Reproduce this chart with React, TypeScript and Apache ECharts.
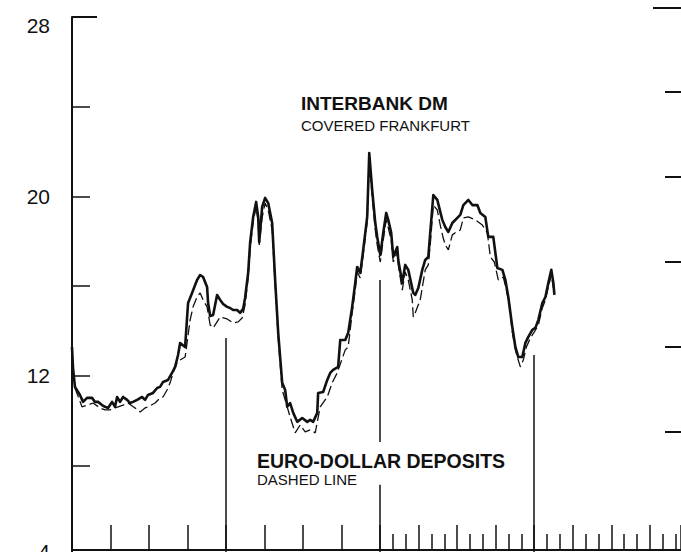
import React, { useEffect, useRef } from "react";
import * as echarts from "echarts";

// Interbank DM (covered Frankfurt) — [month, rate %]
const interbankDM: [number, number][] = [
  [0, 13.28], [0.08, 12.34], [0.23, 11.5], [0.62, 11.14], [0.86, 10.83], [1.17, 11.01], [1.56, 11.01],
  [1.79, 10.83], [2.03, 10.83], [2.34, 10.69], [2.57, 10.61], [2.81, 10.56], [3.12, 10.83], [3.35, 10.61],
  [3.51, 11.05], [3.74, 10.83], [3.98, 11.05], [4.29, 10.92], [4.52, 10.78], [4.75, 10.83], [5.07, 10.92],
  [5.46, 11.05], [5.69, 10.92], [5.92, 11.14], [6.31, 11.23], [6.63, 11.45], [6.86, 11.5], [7.09, 11.72],
  [7.48, 11.81], [7.79, 12.12], [8.03, 12.39], [8.26, 12.92], [8.42, 13.46], [8.81, 13.28], [8.96, 14.57],
  [9.04, 15.24], [9.35, 15.69], [9.74, 16.27], [9.98, 16.49], [10.21, 16.4], [10.52, 15.96], [10.6, 15.24],
  [10.76, 14.66], [10.99, 14.71], [11.3, 15.6], [11.54, 15.38], [11.77, 15.2], [12.08, 15.07], [12.31, 15.02],
  [12.55, 14.93], [12.86, 14.93], [13.09, 14.8], [13.33, 14.98], [13.48, 15.47], [13.72, 16.58], [13.87, 17.92],
  [14.11, 19.08], [14.34, 19.75], [14.5, 19.08], [14.58, 17.96], [14.81, 19.53], [15.04, 19.93], [15.28, 19.7],
  [15.59, 18.81], [15.82, 16.27], [16.06, 13.91], [16.37, 11.68], [16.6, 11.36], [16.76, 10.61], [16.99, 10.78],
  [17.23, 10.34], [17.54, 9.94], [17.93, 10.11], [18.32, 9.94], [18.55, 10.03], [18.78, 9.94], [19.1, 10.34],
  [19.17, 11.23], [19.56, 11.27], [19.88, 11.81], [20.11, 12.12], [20.34, 12.26], [20.73, 12.39], [20.89, 13.59],
  [21.28, 13.59], [21.51, 13.91], [21.82, 15.07], [22.06, 16.14], [22.21, 16.85], [22.45, 16.58], [22.68, 17.61],
  [22.99, 19.08], [23.15, 21.93], [23.38, 20.28], [23.62, 18.81], [23.77, 18.19], [24.01, 17.38], [24.24, 18.37],
  [24.47, 19.26], [24.63, 18.95], [24.86, 18.37], [25.02, 17.3], [25.33, 17.74], [25.41, 17.16], [25.72, 16.14],
  [25.95, 16.94], [26.19, 16.72], [26.58, 15.69], [26.73, 15.6], [26.97, 15.91], [27.28, 16.72], [27.51, 17.16],
  [27.75, 17.3], [27.9, 18.37], [28.14, 20.06], [28.45, 19.84], [28.84, 18.95], [29.07, 18.63], [29.31, 18.41],
  [29.62, 18.81], [30.01, 19.04], [30.24, 19.17], [30.48, 19.61], [30.87, 19.84], [31.18, 19.61], [31.57, 19.61],
  [31.8, 19.26], [32.19, 19.08], [32.42, 18.19], [32.81, 18.19], [33.13, 16.8], [33.52, 16.72], [33.75, 16.27],
  [33.98, 15.51], [34.29, 14.17], [34.53, 13.28], [34.76, 12.83], [35.07, 12.83], [35.31, 13.46], [35.54, 13.73],
  [35.85, 14.04], [36.09, 14.13], [36.32, 14.49], [36.63, 15.24], [36.87, 15.51], [37.1, 16.14], [37.33, 16.72],
  [37.49, 16.14], [37.57, 15.6],
];

// Euro-dollar deposits (dashed line) — [month, rate %]
const euroDollar: [number, number][] = [
  [0.23, 11.45], [0.78, 10.61], [1.25, 10.69], [1.64, 10.78], [2.18, 10.56], [2.57, 10.47], [2.96, 10.47],
  [3.35, 10.56], [3.59, 10.61], [3.98, 10.69], [4.36, 10.78], [4.91, 10.56], [5.3, 10.38], [5.69, 10.56],
  [5.92, 10.61], [6.47, 10.78], [6.86, 11.01], [7.09, 11.05], [7.4, 11.36], [7.64, 11.68], [7.87, 12.12],
  [8.18, 12.57], [8.42, 12.7], [8.81, 12.83], [9.2, 14.49], [9.43, 15.07], [9.74, 15.51], [9.98, 15.69],
  [10.21, 15.38], [10.52, 15.07], [10.76, 14.26], [10.99, 14.13], [11.54, 14.62], [12.08, 14.53], [12.55, 14.35],
  [12.94, 14.4], [13.25, 14.57], [13.48, 15.16], [13.72, 16.36], [13.87, 17.61], [14.11, 18.86], [14.34, 19.53],
  [14.5, 18.86], [14.58, 17.83], [14.81, 19.06], [15.04, 19.7], [15.28, 19.39], [15.59, 18.5], [15.82, 16.05],
  [16.06, 13.68], [16.37, 11.36], [16.6, 10.92], [16.99, 10.16], [17.38, 9.45], [17.77, 9.8], [18.16, 9.49],
  [18.55, 9.58], [18.94, 9.45], [19.33, 10.61], [19.88, 11.05], [20.26, 11.68], [20.65, 12.12], [21.28, 13.15],
  [21.51, 13.28], [21.82, 14.8], [22.06, 15.82], [22.21, 16.63], [22.45, 16.36], [22.68, 17.38], [22.99, 18.86],
  [23.15, 21.62], [23.38, 19.97], [23.62, 18.5], [23.77, 17.83], [24.01, 17.07], [24.24, 18.05], [24.47, 18.95],
  [24.63, 18.59], [24.86, 18.05], [25.02, 17.07], [25.33, 17.52], [25.41, 16.94], [25.72, 15.82], [25.95, 16.63],
  [26.19, 16.27], [26.5, 15.38], [26.58, 14.62], [26.73, 14.8], [26.97, 15.16], [27.12, 15.38], [27.51, 16.72],
  [27.75, 16.94], [27.9, 17.83], [28.14, 19.61], [28.45, 19.39], [28.68, 18.72], [28.91, 18.14], [29.07, 17.83],
  [29.31, 17.61], [29.62, 18.28], [29.93, 18.41], [30.24, 18.5], [30.48, 19.04], [30.87, 19.08], [31.41, 18.95],
  [31.96, 18.72], [32.35, 18.37], [32.58, 17.3], [32.89, 17.07], [33.2, 16.27], [33.59, 16.4], [33.83, 15.82],
  [34.06, 15.16], [34.29, 13.95], [34.53, 13.15], [34.68, 12.83], [34.92, 12.39], [35.15, 12.7], [35.39, 13.28],
  [35.7, 13.68], [36.01, 13.95], [36.32, 14.26], [36.63, 15.02], [36.87, 15.38], [37.1, 15.96], [37.33, 16.49],
  [37.49, 15.91],
];

// axis settings
const yMin = 4;
const yMax = 28;
const yTickStep = 4;
const xMonthsMax = 47.43;
const quarterStep = 3;
const monthlyTickMonths = [25, 26, 28, 29, 31, 32, 34, 35, 37, 38, 40, 41, 43, 44, 46, 47];
// year separator lines: [month, top value, bottom value]
const yearLines: [number, number, number][] = [
  [12, 13.68, 4],
  [24, 16.27, 9.04],
  [24, 7.13, 4],
  [36, 12.92, 4],
];
// right-hand axis (neighbouring panel) tick positions
const rightAxisRange: [number, number] = [-0.447, 5.882];
const rightAxisTicks = [1, 2, 3, 4, 5];

const INK = "#111";
const FONT = "'Liberation Sans', Arial, Helvetica, sans-serif";

export default function App() {
  const ref = useRef<HTMLDivElement>(null);

  useEffect(() => {
    if (!ref.current) return;
    const chart = echarts.init(ref.current, undefined, { renderer: "svg" });
    const option: any = {
      animation: false,
      backgroundColor: "#ffffff",
      grid: {
        left: 72,
        top: 17,
        width: 609,
        height: 538,
        containLabel: false,
        outerBoundsMode: "none",
      },
      xAxis: [
        {
          type: "value",
          position: "bottom",
          min: 0,
          max: xMonthsMax,
          interval: quarterStep,
          offset: -5,
          axisLine: { show: true, onZero: false, lineStyle: { color: INK, width: 2 } },
          axisTick: { show: true, inside: true, length: 25, lineStyle: { color: INK, width: 1.5 } },
          axisLabel: { show: false },
          splitLine: { show: false },
        },
        {
          type: "value",
          position: "bottom",
          min: 0,
          max: xMonthsMax,
          offset: -5,
          axisLine: { show: false, onZero: false },
          axisTick: {
            show: true,
            inside: true,
            length: 16,
            customValues: monthlyTickMonths,
            lineStyle: { color: INK, width: 1.5 },
          },
          axisLabel: { show: false },
          splitLine: { show: false },
        },
      ],
      yAxis: [
        {
          type: "value",
          position: "left",
          min: yMin,
          max: yMax,
          interval: yTickStep,
          axisLine: { show: true, onZero: false, lineStyle: { color: INK, width: 2 } },
          axisTick: { show: true, inside: true, length: 18, lineStyle: { color: INK, width: 1.5 } },
          axisLabel: {
            show: true,
            margin: 22,
            color: INK,
            fontSize: 21,
            fontFamily: FONT,
            formatter: (v: number) => {
              if ((v - yMin) % 8 !== 0) return "";
              if (v === yMax) return "{t|" + v + "}";
              if (v === yMin) return "{b|" + v + "}";
              return String(v);
            },
            rich: {
              t: { fontSize: 21, fontFamily: FONT, color: INK, padding: [16, 0, 0, 0] },
              b: { fontSize: 21, fontFamily: FONT, color: INK, padding: [0, 0, 8, 0] },
            },
          },
          splitLine: { show: false },
        },
        {
          type: "value",
          position: "left",
          min: yMin,
          max: yMax,
          axisLine: { show: false, onZero: false },
          axisTick: {
            show: true,
            inside: true,
            length: 25,
            customValues: [yMax],
            lineStyle: { color: INK, width: 2 },
          },
          axisLabel: { show: false },
          splitLine: { show: false },
        },
        {
          type: "value",
          position: "right",
          min: rightAxisRange[0],
          max: rightAxisRange[1],
          axisLine: { show: false, onZero: false },
          axisTick: {
            show: true,
            inside: true,
            length: 16,
            customValues: rightAxisTicks,
            lineStyle: { color: INK, width: 2 },
          },
          axisLabel: { show: false },
          splitLine: { show: false },
        },
      ],
      series: [
        {
          name: "Interbank DM",
          type: "line",
          xAxisIndex: 0,
          yAxisIndex: 0,
          data: interbankDM,
          symbol: "none",
          showSymbol: false,
          lineStyle: { color: INK, width: 2.6, join: "round" },
          z: 3,
          markLine: {
            silent: true,
            symbol: ["none", "none"],
            label: { show: false },
            lineStyle: { color: INK, width: 1.5, type: "solid" },
            data: yearLines.map(([m, top, bottom]) => [
              { coord: [m, top] },
              { coord: [m, bottom] },
            ]),
          },
        },
        {
          name: "Euro-dollar deposits",
          type: "line",
          xAxisIndex: 0,
          yAxisIndex: 0,
          data: euroDollar,
          symbol: "none",
          showSymbol: false,
          lineStyle: { color: INK, width: 1.3, type: [10, 4] },
          z: 2,
        },
      ],
      graphic: [
        {
          type: "line",
          shape: { x1: 653, y1: 8, x2: 681, y2: 8 },
          style: { stroke: INK, lineWidth: 2 },
        },
        {
          type: "text",
          x: 301,
          y: 103,
          style: {
            text: "INTERBANK DM",
            fontSize: 19,
            fontWeight: "bold",
            fontFamily: FONT,
            fill: INK,
            align: "left",
            verticalAlign: "middle",
          },
        },
        {
          type: "text",
          x: 301,
          y: 125,
          style: {
            text: "COVERED FRANKFURT",
            fontSize: 15,
            fontFamily: FONT,
            fill: INK,
            align: "left",
            verticalAlign: "middle",
          },
        },
        {
          type: "text",
          x: 257,
          y: 461,
          style: {
            text: "EURO-DOLLAR DEPOSITS",
            fontSize: 19.5,
            fontWeight: "bold",
            fontFamily: FONT,
            fill: INK,
            align: "left",
            verticalAlign: "middle",
          },
        },
        {
          type: "text",
          x: 257,
          y: 479,
          style: {
            text: "DASHED LINE",
            fontSize: 15,
            fontFamily: FONT,
            fill: INK,
            align: "left",
            verticalAlign: "middle",
          },
        },
      ],
    };
    chart.setOption(option);
    return () => chart.dispose();
  }, []);

  return (
    <div
      style={{
        position: "fixed",
        left: 0,
        top: 0,
        width: 681,
        height: 552,
        overflow: "hidden",
        background: "#fff",
      }}
    >
      <div ref={ref} style={{ width: 681, height: 552 }} />
    </div>
  );
}
